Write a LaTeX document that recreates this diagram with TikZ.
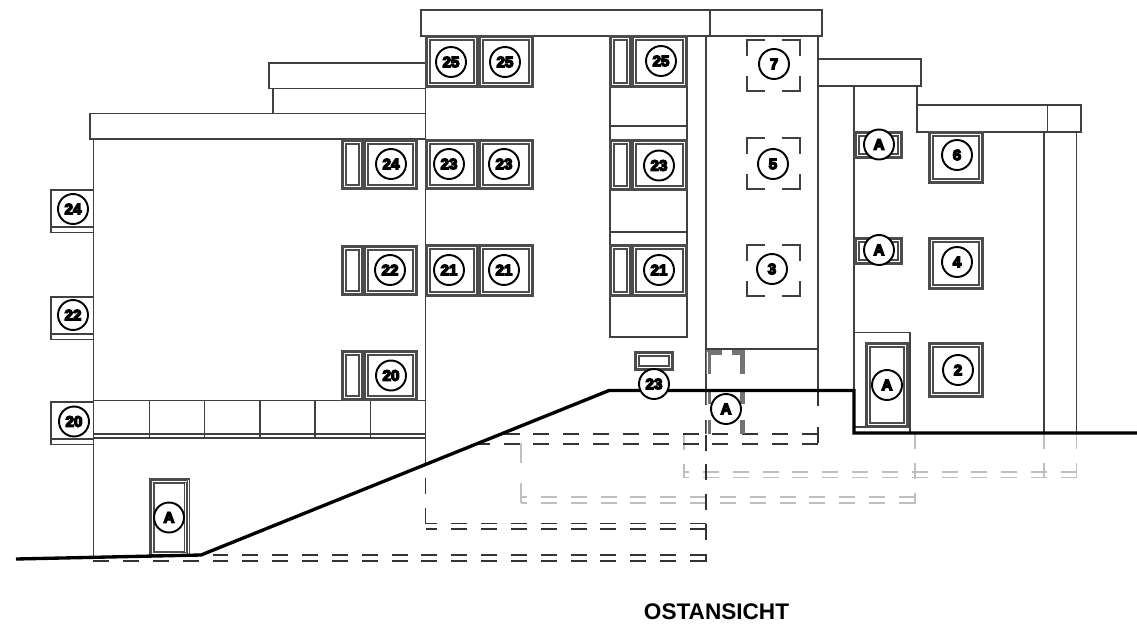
\documentclass[tikz,border=0pt]{standalone}
\usepackage{fontspec}
\setmainfont{Liberation Sans}
\newfontfamily\kreisfont[FakeBold=9]{Liberation Sans Bold}
\tikzset{
	wand/.style={draw=black!75, line width=.6pt},
	rahmen/.style={draw=black!70, line width=.58pt},
	gelaende/.style={draw=black, line width=1.9pt, line join=miter},
	verdeckt/.style={draw=black!80, line width=.6pt, dash pattern=on .32cm off .277cm},
	grau/.style={draw=black!25, line width=.7pt, dash pattern=on .32cm off .277cm},
	tuerdash/.style={draw=black!55, line width=.9pt},
	kreis/.style={circle, draw=black, fill=white, line width=1.1pt, minimum size=.6cm, inner sep=0pt, font=\kreisfont\fontsize{8.6}{10}\selectfont},
}
\begin{document}
\begin{tikzpicture}[x=.02cm, y=-.02cm, line cap=butt]
	\useasboundingbox (0,0) rectangle (1137,626);
	\path
	(16,559) coordinate (G0)
	(201,555) coordinate (G1)
	(609,390.5) coordinate (G2)
	(854,390.5) coordinate (G3)
	(854,433) coordinate (G4)
	(1137,433) coordinate (G5)
	;
	\foreach \y/\a/\b in {472/1077/684,477.5/1077/684,497/915/521,503/915/521}{
		\draw[grau] (\a,\y)--(\b,\y);
	}
	\foreach \x/\a/\b in {684/434/478,915/433/504,1044/433/478,1076.5/433/478}{
		\draw[grau] (\x,\a)--(\x,\b);
	}
	\draw[grau, dash pattern=on .4cm off .4cm] (521,443)--(521,504);
	\foreach \y/\a/\b in {434/818/500,444/818/475,523.5/706/425.5,529/706/425.5,555/706/211,561/706/93}{
		\draw[verdeckt] (\a,\y)--(\b,\y);
	}
	\draw[verdeckt] (425.5,478)--(425.5,524);
	\draw[verdeckt] (818,390)--(818,408) (818,427)--(818,444);
	\draw[verdeckt] (706,434.5)--(706,562);
	\draw[wand] (706,420)--(706,434);
	%
	\draw[wand] (90,113.5) rectangle (425.5,139);
	\draw[wand] (269,63) rectangle (425.5,88.5);
	\draw[wand] (273,88.5)--(273,113.5);
	\draw[wand] (421,10) rectangle (710,36);
	\draw[wand] (710,10) rectangle (822,36);
	\draw[wand] (818,59) rectangle (921,86);
	\draw[wand] (917,105) rectangle (1081,132);
	\draw[wand] (1047.5,105)--(1047.5,132);
	\draw[wand] (917,86)--(917,105);
	\draw[wand] (93.5,139)--(93.5,556);
	\draw[wand] (425.5,36)--(425.5,465);
	\draw[wand] (706,36)--(706,405);
	\draw[wand] (818,36)--(818,390);
	\draw[wand] (854,86)--(854,433);
	\draw[wand] (1044,132)--(1044,433);
	\draw[wand] (1076.5,132)--(1076.5,433);
	\draw[wand] (706,349)--(818,349);
	\draw[wand] (610,36)--(610,337)--(687,337)--(687,36);
	\foreach \y in {126,232}{
		\draw[wand] (610,\y)--(687,\y);
	}
	\draw[wand] (854,332.5)--(910,332.5)--(910,433);
	\draw[wand] (854,427)--(910,427);
	\foreach \y in {190,297,402}{
		\draw[wand] (93.5,\y)--(51,\y)--(51,\y+42.5)--(93.5,\y+42.5);
		\draw[wand] (51,\y+37)--(93.5,\y+37);
	}
	\draw[wand] (93.5,400.5)--(425.5,400.5);
	\draw[wand] (93.5,434)--(425.5,434) (93.5,438)--(425.5,438);
	\foreach \x in {149.5,204.5,260,315,370.5}{
		\draw[wand] (\x,400.5)--(\x,438);
	}
	\foreach \a/\b/\c/\d in {
		342/140/363/189, 364/140/417/189, 342/246/363/295, 364/246/417/295, 342/351/363/400, 364/351/417/400,
		426/36/478/87, 479/36/533/87, 610/36/631/87, 632/36/687/87,
		426/140/478/189, 479/140/533/189, 610/140/631/190, 632/140/687/190,
		426/245/478/296, 479/245/533/296, 610/245/631/296, 632/245/687/296,
		635/352/673/370, 855/132/902/158, 855/238/902/264,
		929/132/983/183, 929/238/983/289, 929/343/983/397,
		866/343/908/427, 150/479/189.5/556}{
		\foreach \i in {0,1.7,3.4,4.8}{
			\draw[rahmen] (\a+\i,\b+\i) rectangle (\c-\i,\d-\i);
		}
	}
	\foreach \a/\b in {747/40,747/138,747/245}{
		\draw[wand] (\a,\b+16)--(\a,\b)--(\a+18,\b);
		\draw[wand] (\a+35,\b)--(\a+53,\b)--(\a+53,\b+16);
		\draw[wand] (\a,\b+36)--(\a,\b+51)--(\a+18,\b+51);
		\draw[wand] (\a+35,\b+51)--(\a+53,\b+51)--(\a+53,\b+36);
	}
	\foreach \i in {0,1.8,3.6}{
		\draw[tuerdash] (706.5+\i,374)--(706.5+\i,351+\i)--(722,351+\i);
		\draw[tuerdash] (732,351+\i)--(744-\i,351+\i)--(744-\i,374);
		\foreach \o/\u in {390/404,420/434}{
			\draw[tuerdash] (706.5+\i,\o)--(706.5+\i,\u);
			\draw[tuerdash] (744-\i,\o)--(744-\i,\u);
		}
	}
	\draw[gelaende] (G0)--(G1)--(G2)--(G3)--(G4)--(G5);
	\foreach \n/\x/\y/\t in {
		a/73/209/24, b/73/315/22, c/74/421.5/20, d/391/164/24, e/390/270/22, f/391/375.5/20,
		g/451/62/25, h/505/62/25, i/661/61/25, j/449/164/23, k/504/164/23, l/659/165.5/23,
		m/449/270/21, n/504/270/21, o/659/270/21, p/654/384/23,
		q/774/64/7, r/773/164/5, s/772/269/3, t/957/155/6, u/957/262/4, v/958/370/2,
		w/169/517.5/A, x/726/409/A, y/887/385/A, z/879/144.5/A, zz/879/250/A}{
		\node[kreis] (K\n) at (\x,\y) {\t};
	}
	\node[font=\bfseries\fontsize{12.85}{15}\selectfont] (titel) at (716.5,612) {OSTANSICHT};
\end{tikzpicture}
\end{document}
